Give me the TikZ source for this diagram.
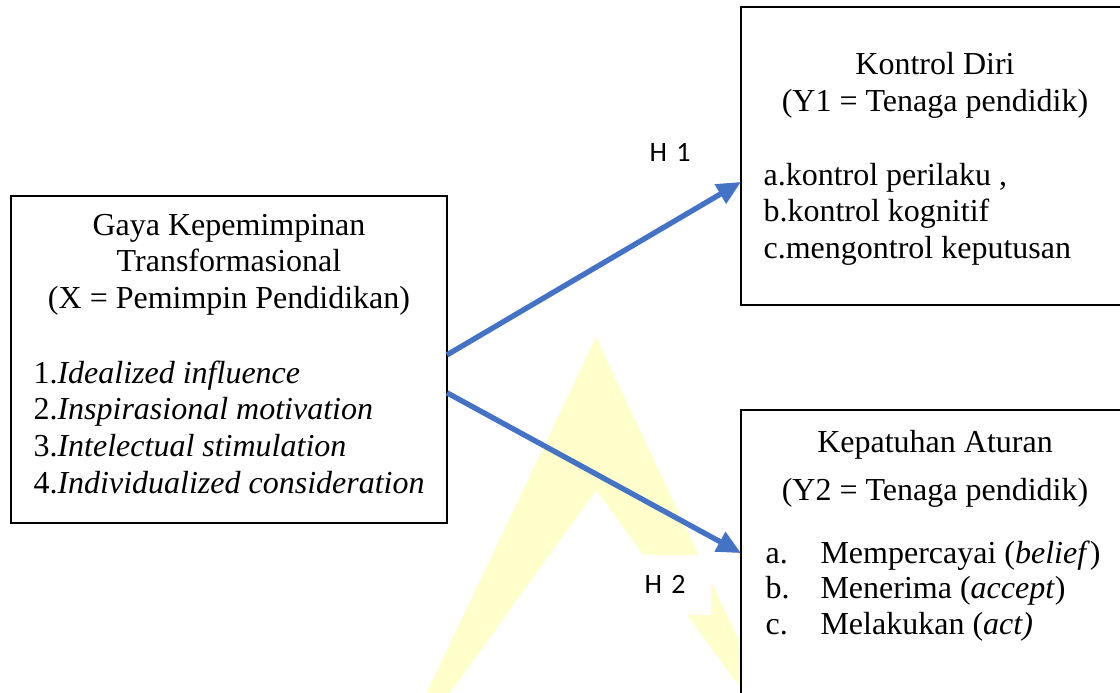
\documentclass[tikz,border=0pt]{standalone}
\usepackage{fontspec}
\setmainfont{Liberation Serif}
\newfontfamily\hfont{Carlito}
\usepackage{tikz}
\usetikzlibrary{calc,arrows.meta}
\definecolor{wmark}{RGB}{255,255,204}
\definecolor{hblue}{RGB}{68,114,196}
\tikzset{
        box/.style={draw, line width=0.8pt, fill=white, anchor=north west, inner sep=0pt, outer sep=0pt},
        txt/.style={inner sep=0pt, font=\fontsize{12}{13.8}\selectfont},
        hlab/.style={fill=white, anchor=north west, inner xsep=4.5pt, inner ysep=0pt, text width=20.6pt,
                minimum height=22.5pt, align=left, font=\hfont\fontsize{10.5}{12}\selectfont},
        hyp/.style={draw=hblue, line width=2pt, -{Triangle[length=9pt,width=8pt]}}
}

\begin{document}
\begin{tikzpicture}[x=0.375pt, y=-0.375pt]
        \useasboundingbox (0,0) rectangle (1120,692);
        \clip (0,0) rectangle (1120,692);
        \fill[wmark] (423,700) -- (596,337) -- (767,700) -- (749,700) -- (596,490) -- (445,700) -- cycle;
        \node[hlab] (h1) at (637,122) {H 1};
        \node[hlab] (h2) at (632,554) {H 2};
        \node[box, minimum width=163.5pt, minimum height=122.6pt] (lbox) at (11,196) {};
        \node[box, minimum width=145.5pt, minimum height=111.75pt] (ybox1) at (741,7) {};
        \node[box, minimum width=145.5pt, minimum height=112.5pt] (ybox2) at (741,410) {};
        \foreach \t [count=\i] in {{Gaya Kepemimpinan}, {Transformasional}, {(X = Pemimpin Pendidikan)}}
        \node[txt, anchor=base] (xt\i) at (229,{235+36.8*(\i-1)}) {\t};
        \foreach \t [count=\i] in {{Idealized influence}, {Inspirasional motivation}, {Intelectual stimulation}, {Individualized consideration}}
        \node[txt, anchor=base west] (xi\i) at (33,{383+36.7*(\i-1)}) {\i.\textit{\t}};
        \node[txt, anchor=base] (y1a) at (935,75) {Kontrol Diri};
        \node[txt, anchor=base] (y1b) at (935,112) {(Y1 = Tenaga pendidik)};
        \foreach \t [count=\i] in {{a.kontrol perilaku ,}, {b.kontrol kognitif}, {c.mengontrol keputusan}}
        \node[txt, anchor=base west] (yi\i) at (763,{185+36.8*(\i-1)}) {\t};
        \node[txt, anchor=base] (y2a) at (935,452) {Kepatuhan Aturan};
        \node[txt, anchor=base] (y2b) at (935,500) {(Y2 = Tenaga pendidik)};
        \foreach \l/\t [count=\i] in {a./{Mempercayai (\textit{belief})}, b./{Menerima (\textit{accept})}, c./{Melakukan (\textit{act)}}}
        {
        \node[txt, anchor=base west] (zl\i) at (765,{563+35.5*(\i-1)}) {\l};
        \node[txt, anchor=base west] (zi\i) at (820,{563+35.5*(\i-1)}) {\t};
        }
        \draw[hyp] ($(lbox.north east)!0.486!(lbox.south east)$) -- ($(ybox1.north west)!0.587!(ybox1.south west)$);
        \draw[hyp] ($(lbox.north east)!0.602!(lbox.south east)$) -- ($(ybox2.north west)!0.477!(ybox2.south west)$);
\end{tikzpicture}
\end{document}
